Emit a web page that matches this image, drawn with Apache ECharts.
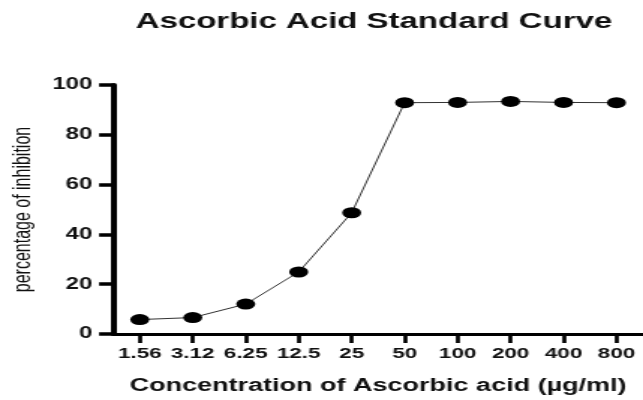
<!DOCTYPE html>
<html><head><meta charset="utf-8">
<script src="https://cdn.jsdelivr.net/npm/echarts@6/dist/echarts.min.js"></script>
<style>
html,body{margin:0;padding:0;background:#fff;overflow:hidden;width:643px;height:400px}
#c{width:429px;height:400px;transform-origin:0 0}
</style>
</head><body><div id="c"></div>
<script>
const concentrations = ['1.56','3.12','6.25','12.5','25','50','100','200','400','800'];
const inhibition = [5.8, 6.6, 12.0, 24.9, 48.7, 92.9, 93.0, 93.4, 93.0, 92.9];
const yTicks = [0, 20, 40, 60, 80, 100];

const F = 'Liberation Sans, Arial, Helvetica, sans-serif';
const el = document.getElementById('c');
const chart = echarts.init(el, null, {renderer:'canvas', width:429, height:400});
chart.setOption({
  animation:false,
  backgroundColor:'#fff',
  title:{text:'Ascorbic Acid Standard Curve', left:244.5, top:6, textAlign:'center',
    textStyle:{fontFamily:F, fontWeight:'bold', fontSize:22, color:'#111'}},
  grid:{left:73, right:0, top:85, bottom:62, containLabel:false},
  xAxis:{type:'category', data:concentrations, boundaryGap:true,
    name:'Concentration of Ascorbic acid (µg/ml)', nameLocation:'middle', nameGap:43,
    nameTextStyle:{fontFamily:F, fontWeight:'bold', fontSize:18, color:'#111'},
    axisLine:{show:true, lineStyle:{color:'#000', width:3}},
    axisTick:{show:true, alignWithLabel:true, length:9, lineStyle:{color:'#000', width:2.7}},
    axisLabel:{margin:12, fontFamily:F, fontWeight:'bold', fontSize:15, color:'#111', interval:0}
  },
  yAxis:{type:'value', min:yTicks[0], max:yTicks[yTicks.length-1], interval:20,
    name:'percentage of inhibition', nameLocation:'middle', nameGap:49, nameRotate:90,
    nameTextStyle:{fontFamily:F, fontSize:16, color:'#111'},
    splitLine:{show:false},
    axisLine:{show:true, lineStyle:{color:'#000', width:4}},
    axisTick:{show:true, length:9.5, lineStyle:{color:'#000', width:3.5}},
    axisLabel:{margin:14, fontFamily:F, fontWeight:'bold', fontSize:16, color:'#111'}
  },
  series:[{type:'line', data:inhibition, symbol:'circle', symbolSize:[12.7,11],
    itemStyle:{color:'#000'}, lineStyle:{color:'#333', width:1}}]
});
chart.getZr().refreshImmediately();
el.style.transform = 'scaleX(1.4988)';
</script></body></html>
